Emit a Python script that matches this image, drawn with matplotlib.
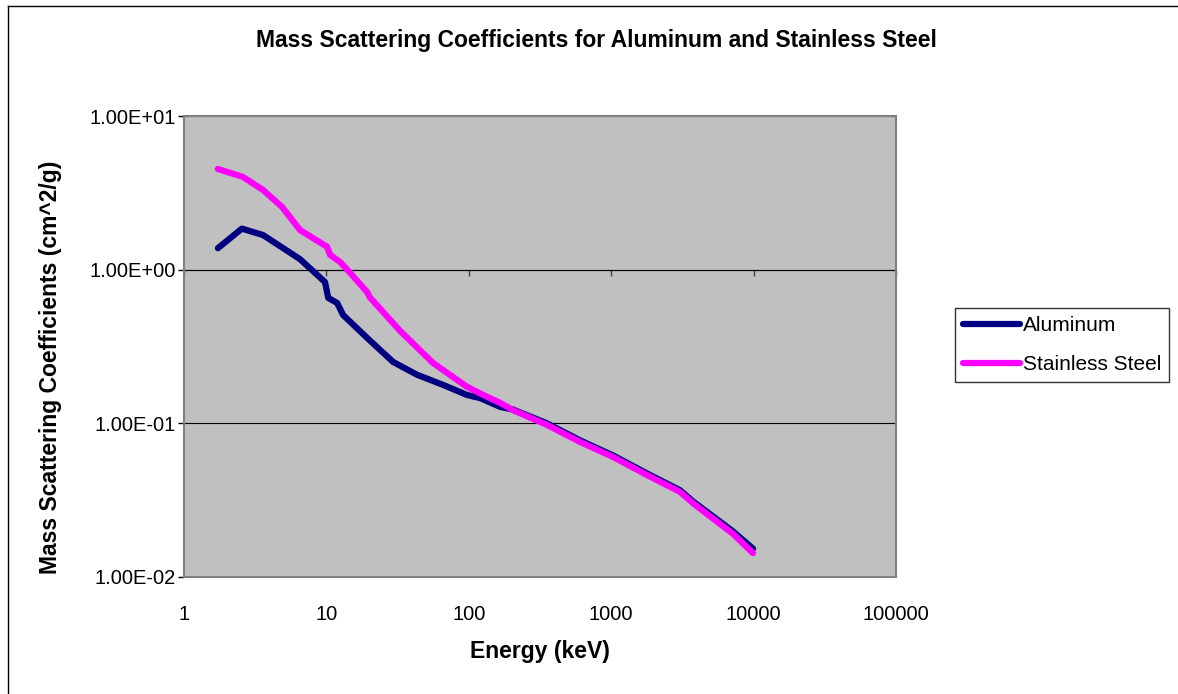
import numpy as np
import matplotlib
matplotlib.use("Agg")
import matplotlib.pyplot as plt
from matplotlib.ticker import FuncFormatter, FixedLocator, NullLocator
from matplotlib.lines import Line2D

plt.rcParams["font.family"] = ["Liberation Sans", "DejaVu Sans"]

# Energy (keV) and mass scattering coefficients (cm^2/g)
al_energy = [1.73, 2.55, 3.59, 6.53, 9.78, 10.3, 11.9, 13.1, 19.3, 29.4, 43.3,
             65.9, 97, 120, 166, 204, 354, 604, 1030, 1783, 3042, 3757,
             5190, 7165, 9905]
al_coef = [1.38, 1.85, 1.68, 1.17, 0.83, 0.655, 0.607, 0.507, 0.36, 0.251,
           0.207, 0.178, 0.153, 0.146, 0.128, 0.123, 0.1, 0.0775, 0.0618,
           0.0472, 0.0367, 0.031, 0.0248, 0.0198, 0.0153]

ss_energy = [1.73, 2.6, 3.59, 4.88, 6.53, 10.1, 10.6, 12.5, 14, 19.3, 20.2,
             32.9, 56.1, 97, 134, 166, 204, 354, 604, 1030, 1783, 3042,
             3757, 5190, 7165, 9905]
ss_coef = [4.52, 4.01, 3.30, 2.56, 1.81, 1.41, 1.25, 1.12, 1.0, 0.716, 0.66,
           0.40, 0.247, 0.173, 0.149, 0.136, 0.122, 0.0977, 0.0757, 0.0604,
           0.0461, 0.0358, 0.0302, 0.0240, 0.0191, 0.0143]

x_ticks = [1, 10, 100, 1000, 10000, 100000]
y_ticks = [0.01, 0.1, 1, 10]

W, H = 1178, 694
fig = plt.figure(figsize=(W / 100, H / 100), dpi=100)
ax = fig.add_axes([184 / W, 1 - 577 / H, (896 - 184) / W, (577 - 116) / H])
ax.set_facecolor("#C0C0C0")

ax.plot(al_energy, al_coef, color="#000080", lw=4.5, solid_capstyle="round",
        solid_joinstyle="round", label="Aluminum", zorder=3)
ax.plot(ss_energy, ss_coef, color="#FF00FF", lw=4.5, solid_capstyle="round",
        solid_joinstyle="round", label="Stainless Steel", zorder=4)

ax.set_xscale("log")
ax.set_yscale("log")
ax.set_xlim(1, 100000)
ax.set_ylim(0.01, 10)

ax.xaxis.set_major_locator(FixedLocator(x_ticks))
ax.xaxis.set_minor_locator(NullLocator())
ax.yaxis.set_major_locator(FixedLocator(y_ticks))
ax.yaxis.set_minor_locator(NullLocator())
ax.xaxis.set_major_formatter(FuncFormatter(lambda v, p: f"{int(round(v))}"))
ax.yaxis.set_major_formatter(FuncFormatter(lambda v, p: f"{v:.2E}"))

ax.tick_params(axis="x", length=0, pad=20, labelsize=14.5)
ax.tick_params(axis="y", length=4, width=1, pad=2, labelsize=14.5, color="black")
ax.grid(True, axis="y", color="black", lw=0.8)
ax.grid(False, axis="x")

for sp in ax.spines.values():
    sp.set_color("#808080")
    sp.set_linewidth(1.5)

# Excel draws the category axis where the value axis crosses 1
sec = ax.secondary_xaxis(2 / 3)
sec.xaxis.set_major_locator(FixedLocator(x_ticks))
sec.xaxis.set_minor_locator(NullLocator())
sec.tick_params(axis="x", direction="out", length=4, width=1, color="#404040",
                labelbottom=False, labeltop=False, top=False, bottom=True)
sec.spines["bottom"].set_color("black")
sec.spines["top"].set_color("black")
sec.spines["bottom"].set_linewidth(1)

ax.set_xlabel("Energy (keV)", fontsize=16.5, fontweight="bold", labelpad=12)
ax.set_ylabel("Mass Scattering Coefficients (cm^2/g)", fontsize=16.5,
              fontweight="bold")
ax.yaxis.set_label_coords(-0.172, 0.455)
fig.text(0.506, 1 - 40 / H, "Mass Scattering Coefficients for Aluminum and Stainless Steel",
         ha="center", va="center", fontsize=16.5, fontweight="bold")

leg = ax.legend(loc="center left", bbox_to_anchor=(955 / W, 1 - 345 / H),
                bbox_transform=fig.transFigure, fontsize=15, frameon=True,
                fancybox=False, edgecolor="black", handlelength=2.7,
                handletextpad=0.15, labelspacing=0.95, borderpad=0.4,
                borderaxespad=0)
leg.get_frame().set_linewidth(1.0)

# chart area border (only left and top edges visible in the crop)
fig.add_artist(Line2D([8 / W, 8 / W], [0, 1 - 6 / H], color="black", lw=1))
fig.add_artist(Line2D([8 / W, 1], [1 - 6 / H, 1 - 6 / H], color="black", lw=1))

fig.savefig("out.png", dpi=100)
